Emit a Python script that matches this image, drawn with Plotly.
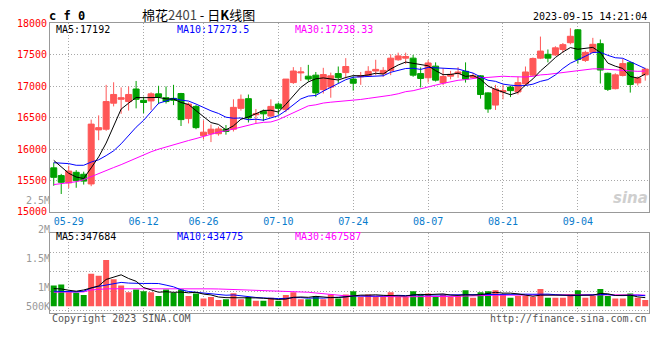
import plotly.graph_objects as go
import pandas as pd

# ---------------- data ----------------
dates = [
    "2023-05-25", "2023-05-26", "2023-05-29", "2023-05-30", "2023-05-31",
    "2023-06-01", "2023-06-02", "2023-06-05", "2023-06-06", "2023-06-07",
    "2023-06-08", "2023-06-09", "2023-06-12", "2023-06-13", "2023-06-14",
    "2023-06-15", "2023-06-16", "2023-06-19", "2023-06-20", "2023-06-21",
    "2023-06-26", "2023-06-27", "2023-06-28", "2023-06-29", "2023-06-30",
    "2023-07-03", "2023-07-04", "2023-07-05", "2023-07-06", "2023-07-07",
    "2023-07-10", "2023-07-11", "2023-07-12", "2023-07-13", "2023-07-14",
    "2023-07-17", "2023-07-18", "2023-07-19", "2023-07-20", "2023-07-21",
    "2023-07-24", "2023-07-25", "2023-07-26", "2023-07-27", "2023-07-28",
    "2023-07-31", "2023-08-01", "2023-08-02", "2023-08-03", "2023-08-04",
    "2023-08-07", "2023-08-08", "2023-08-09", "2023-08-10", "2023-08-11",
    "2023-08-14", "2023-08-15", "2023-08-16", "2023-08-17", "2023-08-18",
    "2023-08-21", "2023-08-22", "2023-08-23", "2023-08-24", "2023-08-25",
    "2023-08-28", "2023-08-29", "2023-08-30", "2023-08-31", "2023-09-01",
    "2023-09-04", "2023-09-05", "2023-09-06", "2023-09-07", "2023-09-08",
    "2023-09-11", "2023-09-12", "2023-09-13", "2023-09-14", "2023-09-15",
]

opens = [15701, 15578, 15461, 15630, 15599, 15445, 16305, 16316, 16730, 16792,
         16756, 16956, 16776, 16766, 16879, 16817, 16807, 16884, 16485, 16679,
         16213, 16244, 16244, 16316, 16316, 16648, 16802, 16546, 16602, 16525,
         16715, 16628, 17058, 17212, 17160, 17176, 16945, 16986, 17201, 17217,
         17114, 17150, 17165, 17242, 17201, 17252, 17421, 17447, 17447, 17201,
         17135, 17320, 17053, 17160, 17201, 17237, 17140, 17165, 16894, 16700,
         16909, 16986, 16909, 17037, 17176, 17447, 17508, 17498, 17585, 17693,
         17898, 17411, 17539, 17677, 17206, 16961, 17171, 17375, 17053, 17181]

highs = [15785, 15605, 15735, 15665, 15640, 16469, 16536, 17022, 17063, 16981,
         16996, 17084, 16833, 16904, 17007, 16996, 17022, 16894, 16741, 16700,
         16459, 16392, 16357, 16382, 16792, 16868, 16868, 16638, 16628, 16792,
         16741, 17114, 17304, 17304, 17340, 17227, 17293, 17217, 17314, 17447,
         17160, 17227, 17319, 17421, 17304, 17508, 17534, 17534, 17498, 17300,
         17416, 17380, 17283, 17245, 17304, 17380, 17212, 17176, 16904, 17022,
         17022, 17007, 17150, 17314, 17457, 17790, 17585, 17636, 17688, 17923,
         17908, 17565, 17770, 17744, 17217, 17206, 17437, 17386, 17155, 17293]

lows = [15415, 15285, 15380, 15384, 15435, 15409, 16141, 16290, 16679, 16561,
        16612, 16648, 16572, 16623, 16715, 16725, 16700, 16367, 16408, 16316,
        16152, 16111, 16213, 16229, 16280, 16612, 16423, 16408, 16444, 16510,
        16546, 16587, 17037, 17083, 17073, 16827, 16884, 16817, 17048, 17124,
        16930, 17022, 17150, 17176, 17150, 17176, 17406, 17355, 17150, 16981,
        17058, 17075, 17017, 17110, 17135, 17058, 17124, 16802, 16577, 16623,
        16792, 16827, 16868, 17012, 17160, 17432, 17380, 17483, 17534, 17667,
        17360, 17386, 17524, 17043, 16925, 16950, 17155, 16899, 17012, 17089]

closes = [15550, 15471, 15650, 15497, 15490, 16397, 16341, 16756, 16869, 16817,
          16869, 16792, 16741, 16879, 16828, 16756, 16776, 16469, 16715, 16341,
          16269, 16316, 16321, 16280, 16664, 16792, 16495, 16561, 16561, 16679,
          16648, 17114, 17242, 17227, 17114, 16894, 17186, 17165, 17135, 17314,
          17048, 17165, 17237, 17268, 17252, 17447, 17483, 17473, 17176, 17124,
          17370, 17097, 17155, 17190, 17227, 17114, 17165, 16868, 16638, 16956,
          16930, 16930, 17058, 17227, 17442, 17560, 17447, 17611, 17662, 17795,
          17427, 17539, 17667, 17258, 16950, 17181, 17360, 17027, 17130, 17273]

volumes = [856000, 895000, 579000, 553000, 461000, 1330000, 1251000, 1896000, 1106000, 856000,
           579000, 685000, 619000, 579000, 421000, 685000, 553000, 685000, 421000, 527000,
           316000, 382000, 263000, 290000, 540000, 290000, 382000, 224000, 224000, 356000,
           224000, 461000, 579000, 290000, 290000, 421000, 290000, 487000, 316000, 487000,
           619000, 382000, 487000, 382000, 382000, 579000, 382000, 382000, 619000, 487000,
           527000, 421000, 487000, 382000, 421000, 658000, 356000, 579000, 619000, 658000,
           487000, 356000, 421000, 421000, 382000, 711000, 356000, 356000, 356000, 487000,
           658000, 356000, 421000, 711000, 421000, 316000, 316000, 527000, 356000, 263000]

# moving-average values at the start of the window (read from the chart,
# they depend on sessions before the first candle)
ma5_head = [15820, 15715, 15615, 15555]
ma10_head = [15783, 15778, 15768, 15742, 15742, 15793, 15829, 15896, 15972]
ma30_head = [15435, 15450, 15462, 15480, 15512, 15563, 15604, 15655, 15706, 15752,
             15803, 15855, 15911, 15957, 15998, 16034, 16075, 16110, 16136, 16167,
             16203, 16239, 16270, 16290, 16321, 16357, 16382, 16408, 16425]
vma5_head = [724000, 711000, 658000, 619000]
vma10_head = [619000, 606000, 593000, 593000, 619000, 750000, 816000, 869000, 930000]
vma30_head = [579000, 579000, 579000, 579000, 590000, 670000, 705000, 715000, 718000, 720000,
              722000, 722000, 722000, 720000, 720000, 720000, 718000, 718000, 716000, 716000,
              718000, 715000, 710000, 700000, 690000, 675000, 660000, 640000, 630000]

tick_dates = ["05-29", "06-12", "06-26", "07-10", "07-24", "08-07", "08-21", "09-04"]

ma_labels = {"MA5": "17192", "MA10": "17273.5", "MA30": "17238.33"}
vma_labels = {"MA5": "347684", "MA10": "434775", "MA30": "467587"}

# ---------------- derived ----------------
idx = list(range(len(dates)))
short = [d[5:] for d in dates]
tickvals = [short.index(t) for t in tick_dates]


def moving(values, n, head):
    roll = pd.Series(values, dtype=float).rolling(n).mean().tolist()
    return list(head) + roll[len(head):]


ma5 = moving(closes, 5, ma5_head)
ma10 = moving(closes, 10, ma10_head)
ma30 = moving(closes, 30, ma30_head)
vma5 = moving(volumes, 5, vma5_head)
vma10 = moving(volumes, 10, vma10_head)
vma30 = moving(volumes, 30, vma30_head)

RED = "#ff5757"
GREEN = "#00a000"
vcolors = [RED if c >= o else GREEN for o, c in zip(opens, closes)]

W, H = 660, 360


def px(x):
    return x / W


def py(y):
    return 1 - y / H


MONO = "DejaVu Sans Mono"
GRID = dict(showgrid=True, gridcolor="#a8a8a8", gridwidth=1, griddash="1px,2px")
FRAME = dict(showline=True, linecolor="#999999", linewidth=1, mirror=True, zeroline=False)

fig = go.Figure()

fig.add_trace(go.Candlestick(
    x=idx, open=opens, high=highs, low=lows, close=closes,
    increasing=dict(line=dict(color=RED, width=1), fillcolor=RED),
    decreasing=dict(line=dict(color=GREEN, width=1), fillcolor=GREEN),
    whiskerwidth=0, xaxis="x", yaxis="y", showlegend=False, hoverinfo="skip",
))
for series, col in [(ma30, "#ff00ff"), (ma10, "#0000ff"), (ma5, "#000000")]:
    fig.add_trace(go.Scatter(x=idx, y=series, mode="lines", line=dict(color=col, width=1),
                             xaxis="x", yaxis="y", showlegend=False, hoverinfo="skip"))

fig.add_trace(go.Bar(x=idx, y=volumes, marker=dict(color=vcolors, line=dict(width=0)),
                     width=0.8, xaxis="x2", yaxis="y2", showlegend=False, hoverinfo="skip"))
for series, col in [(vma30, "#ff00ff"), (vma10, "#0000ff"), (vma5, "#000000")]:
    fig.add_trace(go.Scatter(x=idx, y=series, mode="lines", line=dict(color=col, width=1),
                             xaxis="x2", yaxis="y2", showlegend=False, hoverinfo="skip"))

# empty trace that carries the volume label axis
fig.add_trace(go.Scatter(x=[None], y=[None], xaxis="x3", yaxis="y4",
                         showlegend=False, hoverinfo="skip"))

xdom = [px(50), px(649)]
fig.update_layout(
    width=W, height=H,
    margin=dict(l=0, r=0, t=0, b=0),
    paper_bgcolor="white", plot_bgcolor="rgba(0,0,0,0)",
    hovermode=False, showlegend=False,
    boxgap=0.2, boxgroupgap=0, boxmode="overlay",
    xaxis=dict(domain=xdom, range=[-0.5, len(dates) - 0.5], anchor="y",
               tickmode="array", tickvals=tickvals, ticktext=tick_dates,
               tickfont=dict(family=MONO, size=10, color="#0a7ccc"), ticks="",
               rangeslider=dict(visible=False), **GRID, **FRAME),
    yaxis=dict(domain=[py(213), py(18)], range=[15000, 18000], anchor="x",
               tickmode="linear", tick0=15000, dtick=500, tickformat="d",
               tickfont=dict(family=MONO, size=10, color="#ff0000"), ticks="",
               **GRID, **FRAME),
    xaxis2=dict(domain=xdom, matches="x", anchor="y2", showticklabels=False,
                tickmode="array", tickvals=tickvals, ticks="",
                rangeslider=dict(visible=False), **GRID, **FRAME),
    yaxis2=dict(domain=[py(318), py(235)], range=[-288000, 2990000], anchor="x2",
                tickmode="linear", tick0=620000, dtick=790000, showticklabels=False,
                ticks="", **GRID, **FRAME),
    xaxis3=dict(domain=xdom, range=[0, 1], anchor="y4", visible=False),
    yaxis4=dict(domain=[py(350.7), py(200.7)], range=[0, 2500000], anchor="free",
                position=px(50), side="left", showgrid=False, showline=False,
                zeroline=False, ticks="", tickmode="array",
                tickvals=[666667, 1000000, 1500000, 2000000, 2500000],
                ticktext=["500K", "1M", "1.5M", "2M", "2.5M"],
                tickfont=dict(family=MONO, size=10, color="#999999")),
)

ann = []


def text(x, y, s, color="#000", size=10, anchor="left", family=MONO):
    ann.append(dict(xref="paper", yref="paper", x=px(x), y=py(y), text=s, showarrow=False,
                    xanchor=anchor, yanchor="middle",
                    font=dict(family=family, size=size, color=color)))


text(47, 10, "<b>c f 0</b>", size=12)
text(140, 9, "棉花<span style='color:#444444'>2401</span> - 日<b>K</b>线图", size=13,
     family="Noto Sans CJK SC")
text(649, 11, "2023-09-15 14:21:04", size=10, anchor="right")

cols = {"MA5": "#000000", "MA10": "#0000ff", "MA30": "#ff00ff"}
xs = {"MA5": 54, "MA10": 175, "MA30": 293}
for k, v in ma_labels.items():
    text(xs[k], 24, f"{k}:{v}", color=cols[k])
for k, v in vma_labels.items():
    text(xs[k], 238, f"{k}:{v}", color=cols[k])

text(50, 323, "Copyright 2023 SINA.COM", color="#555555")
text(649, 323, "http://finance.sina.com.cn", color="#555555", anchor="right")
text(650, 199, "<b><i>sina</i></b>", color="#cfcfcf", size=15, anchor="right",
     family="DejaVu Sans")

fig.update_layout(annotations=ann)
fig.write_html("out.html",
               config={"displayModeBar": False, "staticPlot": True},
               post_script="document.body.style.margin='0';document.body.style.overflow='hidden';")
